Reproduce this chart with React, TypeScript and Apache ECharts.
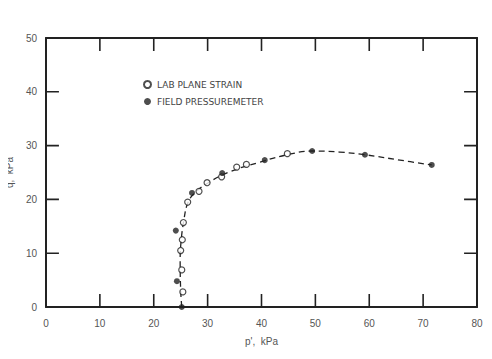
import React, { useEffect, useRef } from "react";
import * as echarts from "echarts";

const xTicks = [0, 10, 20, 30, 40, 50, 60, 70, 80];
const yTicks = [0, 10, 20, 30, 40, 50];

const labPlaneStrain: [number, number][] = [
  [25.4, 2.8], [25.2, 6.9], [25.0, 10.5], [25.3, 12.5], [25.5, 15.7], [26.3, 19.5],
  [28.4, 21.5], [29.9, 23.1], [32.6, 24.2], [35.4, 26.0], [37.2, 26.5], [44.8, 28.5],
];

const fieldPressuremeter: [number, number][] = [
  [25.2, 0], [24.3, 4.8], [24.1, 14.2], [27.1, 21.2], [32.7, 24.9],
  [40.6, 27.3], [49.4, 29.0], [59.2, 28.3], [71.6, 26.4],
];

const fittedCurve: [number, number][] = [
  [25.2, 0], [25.0, 3], [24.9, 8.7], [25.1, 12.5], [25.6, 16.2], [26.3, 19.3],
  [27.6, 21.2], [30.3, 23.2], [34.0, 25.1], [39.6, 26.9], [45.2, 28.4], [49.3, 29.0],
  [54.5, 28.8], [59.2, 28.3], [65.7, 27.3], [71.6, 26.4],
];

const ink = "#222";
const labelColor = "#555";
const font = "Liberation Sans";

const xMin = xTicks[0];
const xMax = xTicks[xTicks.length - 1];
const yMin = yTicks[0];
const yMax = yTicks[yTicks.length - 1];

// inward tick length, in axis units (about 13 px)
const tickLenX = 2.4;
const tickLenY = 2.4;

const segs = (pairs: [number, number][][]) => {
  const out: any[] = [];
  pairs.forEach((p) => {
    out.push(p[0], p[1], null);
  });
  return out;
};

const bottomTicks = segs(xTicks.map((v) => [[v, yMin], [v, yMin + tickLenY]] as [number, number][]));
const topTicks = segs(xTicks.map((v) => [[v, yMax], [v, yMax - tickLenY]] as [number, number][]));
const leftTicks = segs(yTicks.map((v) => [[xMin, v], [xMin + tickLenX, v]] as [number, number][]));
const rightTicks = segs(yTicks.map((v) => [[xMax, v], [xMax - tickLenX, v]] as [number, number][]));

const mkLine = () => ({ show: true, onZero: false, lineStyle: { color: ink, width: 2 } });

const tickSeries = (name: string, data: any[]) => ({
  name,
  type: "line",
  data,
  connectNulls: false,
  showSymbol: false,
  symbol: "none",
  smooth: false,
  silent: true,
  clip: false,
  lineStyle: { color: ink, width: 1.6, type: "solid" },
  z: 5,
});

export default function App() {
  const ref = useRef<HTMLDivElement>(null);
  useEffect(() => {
    if (!ref.current) return;
    const chart = echarts.init(ref.current, undefined, { renderer: "svg" });
    chart.setOption({
      animation: false,
      backgroundColor: "#fff",
      grid: { left: 46, right: 15, top: 38, bottom: 52, containLabel: false, outerBoundsMode: "none" },
      legend: {
        orient: "vertical",
        left: 138,
        top: 75,
        itemGap: 8,
        itemWidth: 7,
        itemHeight: 7,
        textStyle: { fontSize: 9, color: "#444", fontFamily: "DejaVu Sans", padding: [0, 0, 0, 1] },
        data: [
          { name: "LAB PLANE STRAIN", icon: "circle" },
          { name: "FIELD PRESSUREMETER", icon: "circle" },
        ],
      },
      xAxis: [
        {
          type: "value",
          min: xMin,
          max: xMax,
          interval: 10,
          position: "bottom",
          name: "p',  kPa",
          nameLocation: "middle",
          nameGap: 29,
          nameTextStyle: { fontSize: 10, color: labelColor, fontFamily: font },
          axisLine: mkLine(),
          axisTick: { show: false },
          splitLine: { show: false },
          axisLabel: { fontSize: 10, color: labelColor, fontFamily: font, margin: 11 },
        },
        {
          type: "value",
          min: xMin,
          max: xMax,
          interval: 10,
          position: "top",
          axisLine: mkLine(),
          axisTick: { show: false },
          splitLine: { show: false },
          axisLabel: { show: false },
        },
      ],
      yAxis: [
        {
          type: "value",
          min: yMin,
          max: yMax,
          interval: 10,
          position: "left",
          name: "q,  kPa",
          nameLocation: "middle",
          nameGap: 32,
          nameTextStyle: { fontSize: 10, color: labelColor, fontFamily: font },
          axisLine: mkLine(),
          axisTick: { show: false },
          splitLine: { show: false },
          axisLabel: { fontSize: 10, color: labelColor, fontFamily: font, margin: 9 },
        },
        {
          type: "value",
          min: yMin,
          max: yMax,
          interval: 10,
          position: "right",
          axisLine: mkLine(),
          axisTick: { show: false },
          splitLine: { show: false },
          axisLabel: { show: false },
        },
      ],
      series: [
        tickSeries("ticksBottom", bottomTicks),
        tickSeries("ticksTop", topTicks),
        tickSeries("ticksLeft", leftTicks),
        tickSeries("ticksRight", rightTicks),
        {
          name: "curve",
          type: "line",
          data: fittedCurve,
          smooth: 0.4,
          showSymbol: false,
          symbol: "none",
          lineStyle: { color: ink, width: 1.3, type: [6, 4] },
          z: 1,
          silent: true,
        },
        {
          name: "LAB PLANE STRAIN",
          type: "scatter",
          data: labPlaneStrain,
          symbol: "circle",
          symbolSize: 6,
          itemStyle: { color: "#fff", borderColor: ink, borderWidth: 1.2 },
          z: 3,
        },
        {
          name: "FIELD PRESSUREMETER",
          type: "scatter",
          data: fieldPressuremeter,
          symbol: "circle",
          symbolSize: 6,
          itemStyle: { color: ink },
          z: 4,
        },
      ],
    });
    return () => chart.dispose();
  }, []);
  return <div ref={ref} style={{ width: 492, height: 359, margin: -8 }} />;
}
